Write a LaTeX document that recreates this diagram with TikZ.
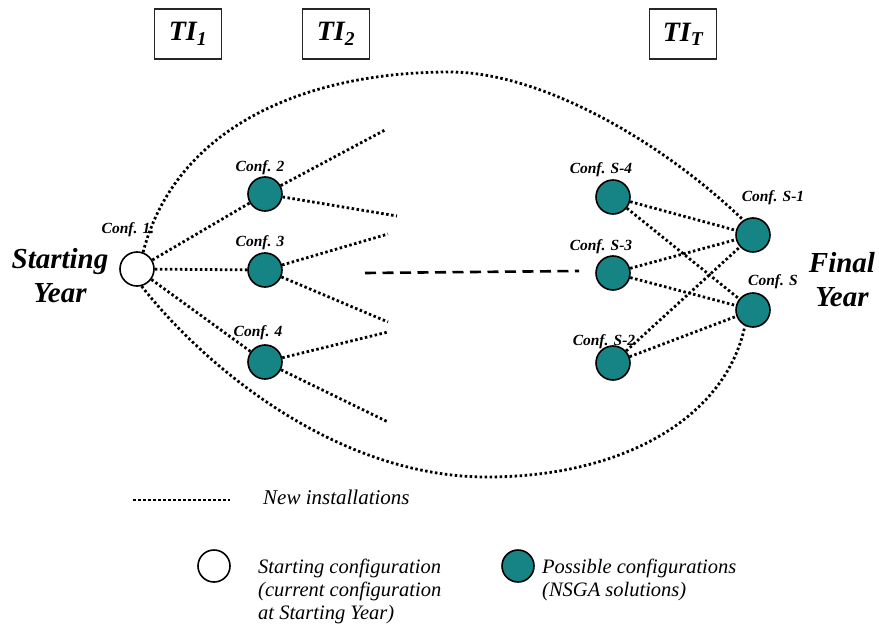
\documentclass[tikz,border=0pt]{standalone}
\usepackage{fontspec}
\setmainfont{Liberation Serif}
\definecolor{confteal}{RGB}{22,132,132}
\begin{document}
\begin{tikzpicture}[x=1pt,y=-1pt,
  conf/.style={circle,draw=black,line width=1.6pt,fill=confteal,minimum size=34pt,inner sep=0pt},
  startconf/.style={conf,fill=white},
  clabel/.style={font=\fontsize{15.5}{15.5}\selectfont\bfseries\itshape,inner sep=0pt},
  tibox/.style={draw=black!85,line width=1.8pt,minimum width=67pt,minimum height=50pt,
    font=\fontsize{28}{28}\selectfont\bfseries\itshape,inner sep=0pt},
  yearlabel/.style={font=\fontsize{29}{34}\selectfont\bfseries\itshape,align=center,inner sep=0pt},
  newinst/.style={line width=2.8pt,dash pattern=on 2.5pt off 2.5pt},
  future/.style={line width=2.6pt,dash pattern=on 11pt off 6.5pt},
  legtext/.style={font=\fontsize{20.5}{23}\selectfont\itshape,align=left,anchor=north west,inner sep=0pt}
]
\useasboundingbox (0,0) rectangle (879,637);

% time-interval boxes
\node[tibox] (ti1) at (188,34) {TI\textsubscript{1}};
\node[tibox] (ti2) at (336,34) {TI\textsubscript{2}};
\node[tibox] (tit) at (683,34) {TI\textsubscript{T}};

% year labels
\node[yearlabel] (startyear) at (60,276) {Starting\\Year};
\node[yearlabel] (finalyear) at (842,280) {Final\\Year};

% configurations
\node[startconf] (c1) at (137,269) {};
\node[conf] (c2) at (265,194) {};
\node[conf] (c3) at (265,270) {};
\node[conf] (c4) at (265,362) {};
\node[conf] (s4) at (613,197) {};
\node[conf] (s3) at (613,273) {};
\node[conf] (s2) at (613,363) {};
\node[conf] (s1) at (753,235) {};
\node[conf] (s0) at (753,310) {};

% configuration labels
\node[clabel] (l1) at (128,230) {Conf. 1.};
\node[clabel] (l2) at (260,168) {Conf. 2};
\node[clabel] (l3) at (260,243) {Conf. 3};
\node[clabel] (l4) at (258,333) {Conf. 4};
\node[clabel] (ls4) at (601,170) {Conf. S-4};
\node[clabel] (ls3) at (601,247) {Conf. S-3};
\node[clabel] (ls2) at (604,342) {Conf. S-2};
\node[clabel] (ls1) at (773,198) {Conf. S-1};
\node[clabel] (ls0) at (773,282) {Conf. S};

% open ends of the second interval's branches
\coordinate (e1) at (385,130);
\coordinate (e2) at (397,216);
\coordinate (e3) at (388,234);
\coordinate (e4) at (388,322);
\coordinate (e5) at (388,332);
\coordinate (e6) at (388,422);

% extremes of the outer envelope
\coordinate (top) at (450,72);
\coordinate (bot) at (487,477);

% intermediate years
\coordinate (d1) at (365,273);
\coordinate (d2) at (579,271);

% new installations
\draw[newinst] (c1) -- (c2);
\draw[newinst] (c1) -- (c3);
\draw[newinst] (c1) -- (c4);
\draw[newinst] (c2) -- (e1);
\draw[newinst] (c2) -- (e2);
\draw[newinst] (c3) -- (e3);
\draw[newinst] (c3) -- (e4);
\draw[newinst] (c4) -- (e5);
\draw[newinst] (c4) -- (e6);
\draw[newinst] (s4) -- (s1);
\draw[newinst] (s4) -- (s0);
\draw[newinst] (s3) -- (s1);
\draw[newinst] (s3) -- (s0);
\draw[newinst] (s2) -- (s1);
\draw[newinst] (s2) -- (s0);

% outer envelope
\draw[newinst] (c1.70) .. controls (175,130) and (300,72) .. (top)
  .. controls (540,72) and (660,140) .. (s1.123);
\draw[newinst] (c1.-75) .. controls (205,367) and (337,477) .. (bot)
  .. controls (620,477) and (725,420) .. (s0.243);

\draw[future] (d1) -- (d2);

% legend
\coordinate (lg1) at (133,500);
\coordinate (lg2) at (230,500);
\draw[newinst] (lg1) -- (lg2);
\node[font=\fontsize{21}{21}\selectfont\itshape,anchor=west,inner sep=0pt] (lgt) at (263,497) {New installations};

\node[startconf,minimum size=32pt] (lgs) at (214,566) {};
\node[legtext] (lgst) at (258,559) {Starting configuration\\(current configuration\\at Starting Year)};
\node[conf,minimum size=32pt] (lgp) at (518,566) {};
\node[legtext] (lgpt) at (542,559) {Possible configurations\\(NSGA solutions)};
\end{tikzpicture}
\end{document}
